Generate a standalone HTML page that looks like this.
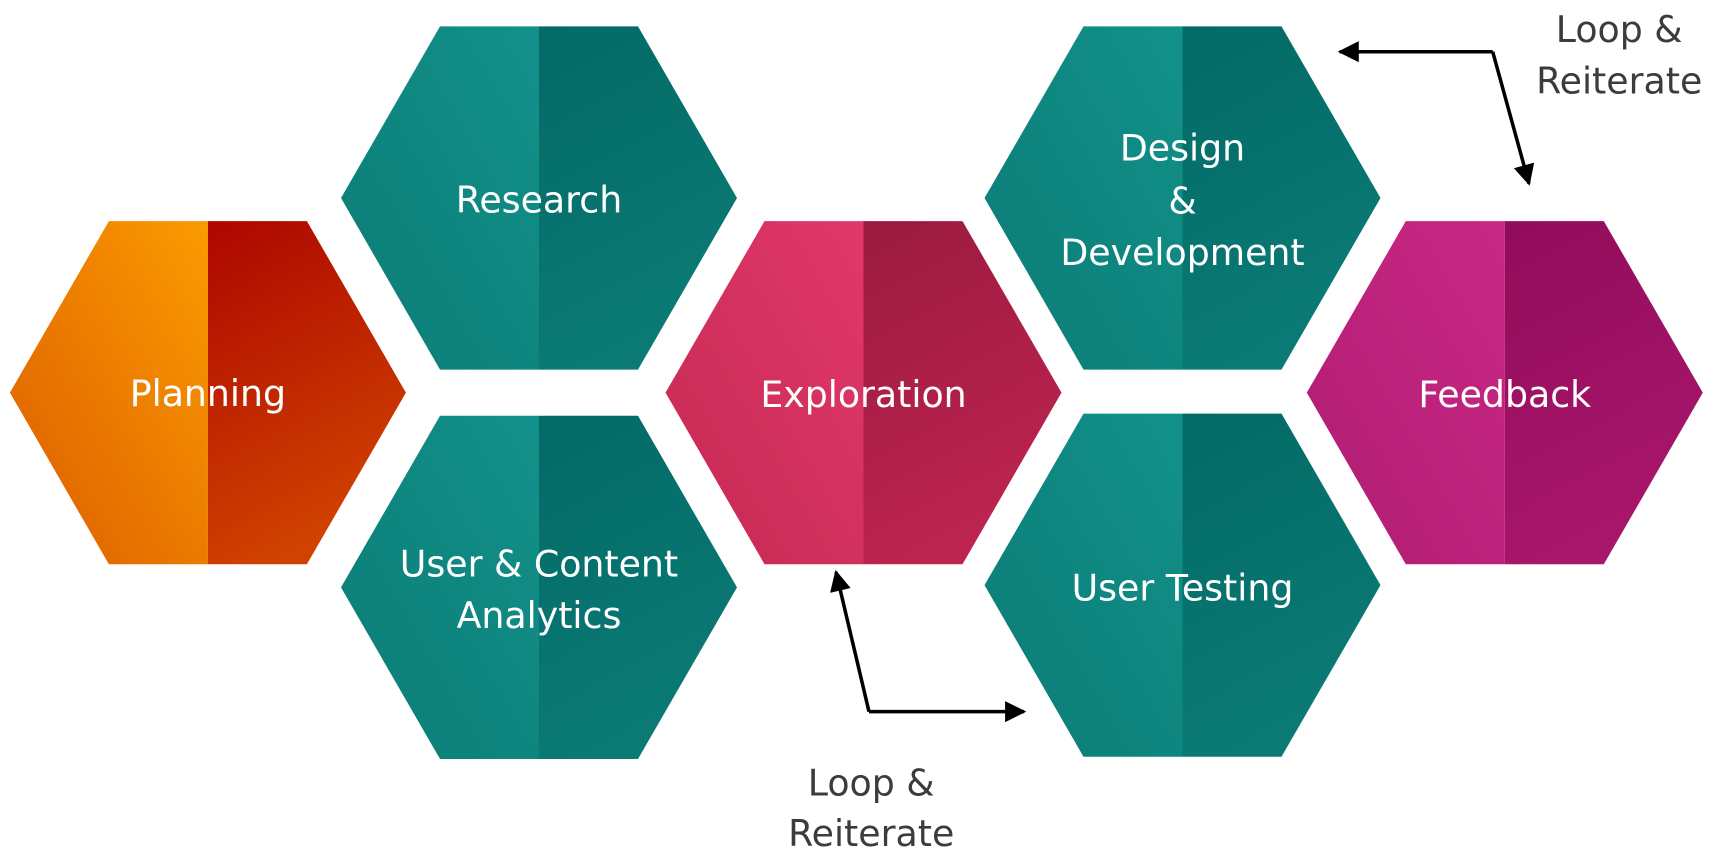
<!DOCTYPE html>
<html><head><meta charset="utf-8"><style>
html,body{margin:0;padding:0;background:#fff;}
svg{display:block;}
text{font-family:"DejaVu Sans","Liberation Sans",sans-serif;}
.w{fill:#fff;font-size:33px;text-anchor:middle;}
.g{fill:#3c3c3c;font-size:33px;text-anchor:middle;}
</style></head><body>
<svg width="1716" height="854" viewBox="0 0 1560 776.4" preserveAspectRatio="none" xmlns="http://www.w3.org/2000/svg">
<defs>
<linearGradient id="tl" x1="1" y1="0" x2="0" y2="1"><stop offset="0" stop-color="#12918a"/><stop offset="1" stop-color="#0b7b75"/></linearGradient>
<linearGradient id="tr" x1="0" y1="0" x2="0.3" y2="1"><stop offset="0" stop-color="#036a65"/><stop offset="1" stop-color="#0b7a75"/></linearGradient>
<linearGradient id="ol" x1="1" y1="0" x2="0" y2="1"><stop offset="0" stop-color="#fb9b00"/><stop offset="1" stop-color="#dc5c00"/></linearGradient>
<linearGradient id="or" x1="0" y1="0" x2="0.3" y2="1"><stop offset="0" stop-color="#ad0600"/><stop offset="1" stop-color="#d04200"/></linearGradient>
<linearGradient id="el" x1="1" y1="0" x2="0" y2="1"><stop offset="0" stop-color="#e2386a"/><stop offset="1" stop-color="#c32952"/></linearGradient>
<linearGradient id="er" x1="0" y1="0" x2="0.3" y2="1"><stop offset="0" stop-color="#9b1a3f"/><stop offset="1" stop-color="#bd2450"/></linearGradient>
<linearGradient id="fl" x1="1" y1="0" x2="0" y2="1"><stop offset="0" stop-color="#c92885"/><stop offset="1" stop-color="#b01c72"/></linearGradient>
<linearGradient id="fr" x1="0" y1="0" x2="0.3" y2="1"><stop offset="0" stop-color="#920c5b"/><stop offset="1" stop-color="#a8166c"/></linearGradient>
<marker id="ah" viewBox="0 0 10 10" refX="9" refY="5" markerWidth="6" markerHeight="6" orient="auto"><path d="M0,0 L10,5 L0,10 z" fill="#000"/></marker>
</defs>
<polygon points="9,357 99,201 189,201 189,513 99,513" fill="url(#ol)"/>
<polygon points="189,201 279,201 369,357 279,513 189,513" fill="url(#or)"/>
<polygon points="310,180 400,24 490,24 490,336 400,336" fill="url(#tl)"/>
<polygon points="490,24 580,24 670,180 580,336 490,336" fill="url(#tr)"/>
<polygon points="310,534 400,378 490,378 490,690 400,690" fill="url(#tl)"/>
<polygon points="490,378 580,378 670,534 580,690 490,690" fill="url(#tr)"/>
<polygon points="605,357 695,201 785,201 785,513 695,513" fill="url(#el)"/>
<polygon points="785,201 875,201 965,357 875,513 785,513" fill="url(#er)"/>
<polygon points="895,180 985,24 1075,24 1075,336 985,336" fill="url(#tl)"/>
<polygon points="1075,24 1165,24 1255,180 1165,336 1075,336" fill="url(#tr)"/>
<polygon points="895,532 985,376 1075,376 1075,688 985,688" fill="url(#tl)"/>
<polygon points="1075,376 1165,376 1255,532 1165,688 1075,688" fill="url(#tr)"/>
<polygon points="1188,357 1278,201 1368,201 1368,513 1278,513" fill="url(#fl)"/>
<polygon points="1368,201 1458,201 1548,357 1458,513 1368,513" fill="url(#fr)"/>

<text class="w" x="189" y="369">Planning</text>
<text class="w" x="490" y="193">Research</text>
<text class="w" x="490" y="524">User &amp; Content</text>
<text class="w" x="490" y="571">Analytics</text>
<text class="w" x="785" y="370">Exploration</text>
<text class="w" x="1075" y="146">Design</text>
<text class="w" x="1075" y="194">&amp;</text>
<text class="w" x="1075" y="241">Development</text>
<text class="w" x="1075" y="546">User Testing</text>
<text class="w" x="1368" y="370">Feedback</text>

<polyline points="1357,47 1218,47" fill="none" stroke="#000" stroke-width="3.2" marker-end="url(#ah)"/>
<polyline points="1357,47 1390,167" fill="none" stroke="#000" stroke-width="3.2" marker-end="url(#ah)"/>
<polyline points="790,647 760,520" fill="none" stroke="#000" stroke-width="3.2" marker-end="url(#ah)"/>
<polyline points="790,647 931,647" fill="none" stroke="#000" stroke-width="3.2" marker-end="url(#ah)"/>

<text class="g" x="1472" y="38">Loop &amp;</text>
<text class="g" x="1472" y="85">Reiterate</text>
<text class="g" x="792" y="723">Loop &amp;</text>
<text class="g" x="792" y="769">Reiterate</text>
</svg>
</body></html>
